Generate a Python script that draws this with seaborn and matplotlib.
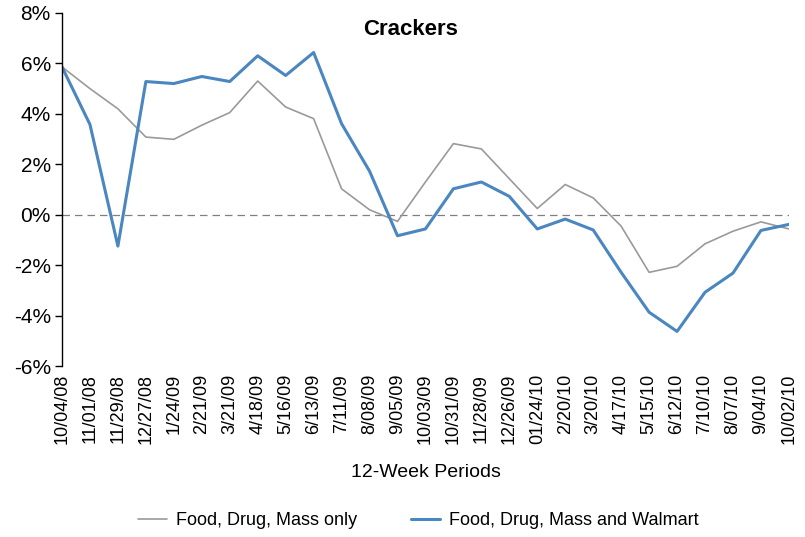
import numpy as np
import pandas as pd
import seaborn as sns
import matplotlib.pyplot as plt
from matplotlib.ticker import FuncFormatter

# Data (percent change)
periods = ["10/04/08", "11/01/08", "11/29/08", "12/27/08", "1/24/09", "2/21/09",
           "3/21/09", "4/18/09", "5/16/09", "6/13/09", "7/11/09", "8/08/09",
           "9/05/09", "10/03/09", "10/31/09", "11/28/09", "12/26/09", "01/24/10",
           "2/20/10", "3/20/10", "4/17/10", "5/15/10", "6/12/10", "7/10/10",
           "8/07/10", "9/04/10", "10/02/10"]
fdm_only = [5.86, 5.0, 4.2, 3.08, 2.99, 3.55, 4.05, 5.3, 4.27, 3.81, 1.03, 0.2,
            -0.26, 1.3, 2.82, 2.61, 1.43, 0.25, 1.2, 0.67, -0.45, -2.28, -2.04,
            -1.15, -0.65, -0.28, -0.56]
fdm_walmart = [5.86, 3.58, -1.24, 5.28, 5.2, 5.48, 5.28, 6.3, 5.52, 6.43, 3.61,
               1.73, -0.83, -0.56, 1.03, 1.3, 0.73, -0.56, -0.17, -0.6, -2.28,
               -3.86, -4.62, -3.07, -2.31, -0.62, -0.38]
series_names = ["Food, Drug, Mass only", "Food, Drug, Mass and Walmart"]

df = pd.DataFrame({
    "idx": list(range(len(periods))) * 2,
    "value": fdm_only + fdm_walmart,
    "series": [series_names[0]] * len(periods) + [series_names[1]] * len(periods),
})

sns.set_style("white")
plt.rcParams["font.family"] = ["Liberation Sans", "DejaVu Sans"]
plt.rcParams["text.color"] = "black"
plt.rcParams["xtick.color"] = "black"
plt.rcParams["ytick.color"] = "black"
plt.rcParams["axes.labelcolor"] = "black"

fig = plt.figure(figsize=(8.05, 5.37), dpi=100)
ax = fig.add_axes([0.077, 0.318, 0.903, 0.658])

palette = {series_names[0]: "#9a9a9a", series_names[1]: "#4a86c0"}
sns.lineplot(data=df, x="idx", y="value", hue="series", palette=palette,
             size="series", sizes={series_names[0]: 1.2, series_names[1]: 2.2},
             ax=ax, legend=False)

# dashed zero line
ax.axhline(0, color="#808080", lw=0.9, ls=(0, (6, 4)), zorder=0)

ax.set_xlim(0, len(periods) - 1)
ax.set_ylim(-6, 8)
ax.set_yticks(np.arange(-6, 9, 2))
ax.yaxis.set_major_formatter(FuncFormatter(lambda v, p: f"{v:.0f}%"))
ax.set_xticks(range(len(periods)))
ax.set_xticklabels(periods, rotation=90)

for s in ["top", "right", "bottom"]:
    ax.spines[s].set_visible(False)
ax.spines["left"].set_color("black")
ax.spines["left"].set_linewidth(1)
ax.tick_params(axis="y", left=True, direction="out", length=5, width=1,
               labelsize=15, pad=3)
ax.tick_params(axis="x", bottom=False, labelsize=13, pad=2)

ax.set_xlabel("12-Week Periods", fontsize=14, labelpad=14)
ax.set_ylabel("")
fig.text(0.51, 0.945, "Crackers", ha="center", va="center", fontsize=16,
         fontweight="bold")

handles = [plt.Line2D([], [], color=palette[series_names[0]], lw=1.2),
           plt.Line2D([], [], color=palette[series_names[1]], lw=2.2)]
fig.legend(handles, series_names, loc="center", bbox_to_anchor=(0.52, 0.03),
           ncol=2, frameon=False, fontsize=13, handlelength=1.6,
           columnspacing=3, handletextpad=0.5)

fig.savefig("out.png", dpi=100)
